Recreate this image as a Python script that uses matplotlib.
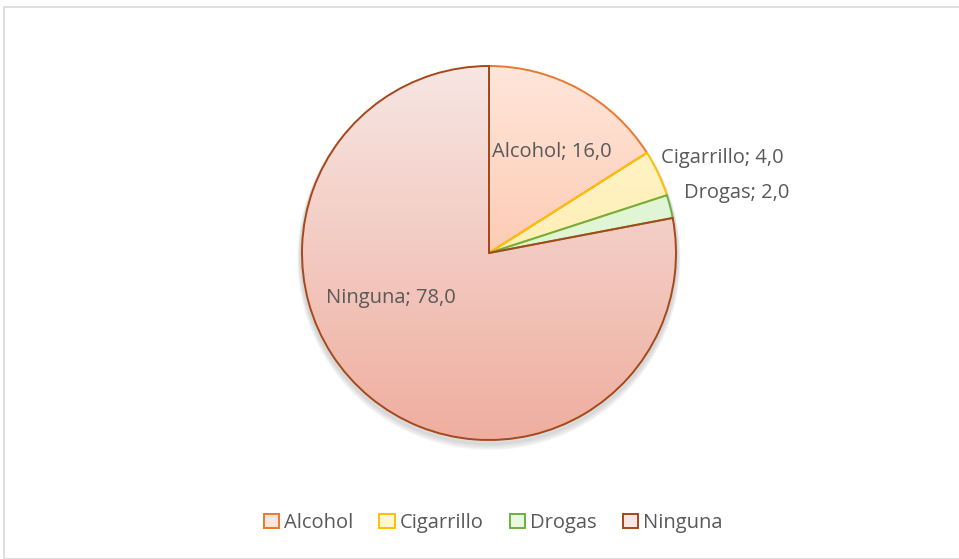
import numpy as np
import matplotlib
matplotlib.use("Agg")
from matplotlib import pyplot as plt
from matplotlib.patches import Rectangle, Patch
from matplotlib.colors import LinearSegmentedColormap

categorias = ["Alcohol", "Cigarrillo", "Drogas", "Ninguna"]
valores = [16.0, 4.0, 2.0, 78.0]
bordes = ["#E9792F", "#FFC000", "#6FAE45", "#A5481A"]
# gradient top -> bottom for each slice
rellenos = [("#FFE6DA", "#FBB28F"), ("#FFF6D2", "#FFE99A"),
            ("#EAF8E0", "#D2F2C4"), ("#F7E6E3", "#EFAE9F")]
# label offsets (px from pie centre) and alignment
etiquetas_pos = [(3, 101, "left"), (172, 95, "left"), (195, 60, "left"), (-163, -45, "left")]

plt.rcParams['font.family'] = ['Open Sans', 'DejaVu Sans']

fig = plt.figure(figsize=(9.59, 5.59), dpi=100)
fig.patches.append(Rectangle((4/959, 0), 1, 1 - 7/559, transform=fig.transFigure,
                             fill=False, edgecolor="#D9D9D9", linewidth=1.2))

R = 187
cx, cy = 489, 253
size = 440
ax = fig.add_axes([(cx - size/2)/959, (559 - cy - size/2)/559, size/959, size/559])

wedges, textos = ax.pie(valores, radius=R, startangle=90, counterclock=False,
                        wedgeprops=dict(facecolor="none", linewidth=1.4))
for t in textos:
    t.remove()
ax.set_aspect("equal")
ax.axis("off")

# soft shadow under the pie
for k in range(6):
    sh = plt.Circle((0, -3 - k*0.5), R + 1 + k*0.6, color="black", alpha=0.025, zorder=0)
    ax.add_patch(sh)

for w, (c1, c2), ec in zip(wedges, rellenos, bordes):
    cmap = LinearSegmentedColormap.from_list("g", [c2, c1])
    grad = np.linspace(0, 1, 256).reshape(-1, 1)
    im = ax.imshow(grad, cmap=cmap, extent=(-R, R, -R, R), origin="lower",
                   aspect="auto", zorder=1)
    im.set_clip_path(w)
    w.set_edgecolor(ec)
    w.set_zorder(2)
ax.set_xlim(-size/2, size/2)
ax.set_ylim(-size/2, size/2)

for cat, v, (dx, dy, ha) in zip(categorias, valores, etiquetas_pos):
    ax.text(dx, dy, f"{cat}; {v:.1f}".replace(".", ","), ha=ha, va="center",
            fontsize=14.5, color="#595959", zorder=3)

handles = [Patch(facecolor=c1, edgecolor=ec, linewidth=1.4) for (c1, c2), ec in zip(rellenos, bordes)]
fig.legend(handles, categorias, loc="center", bbox_to_anchor=(493/959, 1 - 523/559),
           ncol=4, frameon=False, fontsize=14.5, labelcolor="#595959",
           handlelength=0.75, handleheight=0.75, handletextpad=0.25, columnspacing=1.3)

fig.savefig("out.png", dpi=100)
